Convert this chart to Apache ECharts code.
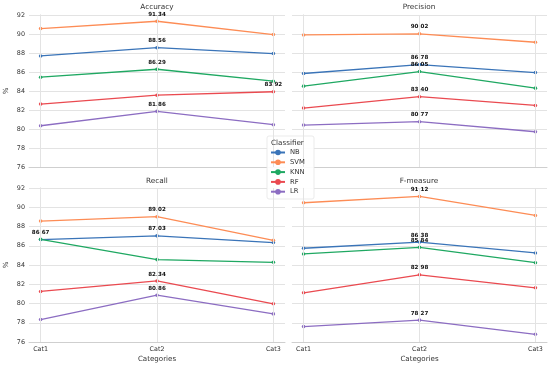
<!DOCTYPE html>
<html>
<head>
<meta charset="utf-8">
<script src="https://cdn.jsdelivr.net/npm/echarts@6/dist/echarts.min.js"></script>
<style>html,body{margin:0;padding:0;background:#fff}#c{width:550px;height:368px}</style>
</head>
<body>
<div id="c"></div>
<script>
const categories = ['Cat1', 'Cat2', 'Cat3'];
const classifiers = ['NB', 'SVM', 'KNN', 'RF', 'LR'];
const metrics = ['Accuracy', 'Precision', 'Recall', 'F-measure'];
const yTicks = [76, 78, 80, 82, 84, 86, 88, 90, 92];
// rows follow classifiers order: NB, SVM, KNN, RF, LR
const accuracy = [
  [87.69, 88.56, 87.94],
  [90.57, 91.34, 89.94],
  [85.45, 86.29, 85.03],
  [82.62, 83.56, 83.92],
  [80.34, 81.86, 80.45]
];
const precision = [
  [85.84, 86.78, 85.94],
  [89.90, 90.02, 89.13],
  [84.51, 86.05, 84.30],
  [82.20, 83.40, 82.48],
  [80.41, 80.77, 79.71]
];
const recall = [
  [86.64, 87.03, 86.33],
  [88.56, 89.02, 86.57],
  [86.67, 84.56, 84.28],
  [81.25, 82.34, 79.97],
  [78.33, 80.86, 78.92]
];
const fmeasure = [
  [85.74, 86.38, 85.25],
  [90.47, 91.12, 89.15],
  [85.15, 85.84, 84.24],
  [81.11, 82.98, 81.63],
  [77.60, 78.27, 76.80]
];
const colors = ['#3a74b8', '#fd8c55', '#1fa862', '#ea4a50', '#8c6dc2'];

const panelData = [accuracy, precision, recall, fmeasure];
const FONT = 'DejaVu Sans';
const GRIDC = '#e3e3e3';
const grids = [
  {left: 29, top: 15, width: 256, height: 152},
  {left: 292, top: 15, width: 255, height: 152},
  {left: 29, top: 188, width: 256, height: 154},
  {left: 292, top: 188, width: 255, height: 154}
];
const xAxes = grids.map((g, i) => ({
  type: 'value', gridIndex: i, min: -0.1, max: 2.1,
  name: i >= 2 ? 'Categories' : '', nameLocation: 'middle', nameGap: 14,
  nameTextStyle: {fontFamily: FONT, fontSize: 7.1, color: '#333'},
  axisLine: {show: true, onZero: false, lineStyle: {color: '#cfcfcf', width: 1}},
  axisTick: {show: false, customValues: [0, 1, 2]},
  axisLabel: {show: i >= 2, customValues: [0, 1, 2], margin: 4,
    formatter: v => categories[Math.round(v)] || '',
    fontFamily: FONT, fontSize: 6.4, color: '#333'},
  splitLine: {show: false}
}));
const yAxes = grids.map((g, i) => ({
  type: 'value', gridIndex: i, min: yTicks[0], max: yTicks[yTicks.length - 1], interval: 2,
  name: i % 2 === 0 ? '%' : '', nameLocation: 'middle', nameGap: 19,
  nameTextStyle: {fontFamily: FONT, fontSize: 7, color: '#333'},
  axisLine: {show: true, lineStyle: {color: '#cfcfcf', width: 1}},
  axisTick: {show: false},
  axisLabel: {show: i % 2 === 0, margin: 4, fontFamily: FONT, fontSize: 6.4, color: '#333'},
  splitLine: {show: true, lineStyle: {color: GRIDC, width: 1}}
}));
const series = [];
panelData.forEach((rows, p) => {
  // vertical grid lines at the categories
  series.push({
    type: 'line', xAxisIndex: p, yAxisIndex: p, data: [], z: 1, silent: true,
    markLine: {silent: true, symbol: 'none', label: {show: false}, animation: false,
      lineStyle: {color: GRIDC, width: 1, type: 'solid'},
      emphasis: {disabled: true},
      data: categories.map((c, j) => ({xAxis: j}))}
  });
  rows.forEach((vals, k) => {
    const maxIdx = vals.indexOf(Math.max(...vals));
    series.push({
      type: 'line', name: classifiers[k], xAxisIndex: p, yAxisIndex: p, z: 2,
      symbol: 'circle', symbolSize: 3.6, showSymbol: true,
      lineStyle: {width: 1.3, color: colors[k]},
      itemStyle: {color: colors[k]},
      emphasis: {disabled: true},
      data: vals.map((v, j) => ({
        value: [j, v],
        label: {show: j === maxIdx, position: 'top', distance: 2,
          formatter: () => v.toFixed(2),
          fontFamily: FONT, fontWeight: 'bold', fontSize: 5.6, color: '#111'}
      }))
    });
  });
});
const titleCenters = [[157, 7], [419, 7], [157, 181], [419, 181]];
const graphic = metrics.map((m, i) => ({
  type: 'text', x: titleCenters[i][0], y: titleCenters[i][1], z: 10,
  style: {text: m, fontFamily: FONT, fontSize: 7.3, fill: '#333', align: 'center', verticalAlign: 'middle'}
}));
graphic.push({type: 'rect', z: 3, shape: {x: 267, y: 136, width: 47, height: 63, r: 2},
  style: {fill: 'rgba(255,255,255,0.9)', stroke: '#e6e6e6', lineWidth: 0.8}});
graphic.push({type: 'text', z: 10, x: 271, y: 143,
  style: {text: 'Classifier', fontFamily: FONT, fontSize: 7.2, fill: '#333', align: 'left', verticalAlign: 'middle'}});

const chart = echarts.init(document.getElementById('c'), null, {renderer: 'canvas'});
chart.setOption({
  animation: false,
  backgroundColor: '#fff',
  color: colors,
  grid: grids,
  xAxis: xAxes,
  yAxis: yAxes,
  legend: {
    data: classifiers, orient: 'vertical', left: 270, top: 149, z: 6,
    itemWidth: 14, itemHeight: 7, itemGap: 2.8, padding: 0,
    textStyle: {fontFamily: FONT, fontSize: 6.8, color: '#333', lineHeight: 7}
  },
  graphic: graphic,
  series: series
});
</script>
</body>
</html>
